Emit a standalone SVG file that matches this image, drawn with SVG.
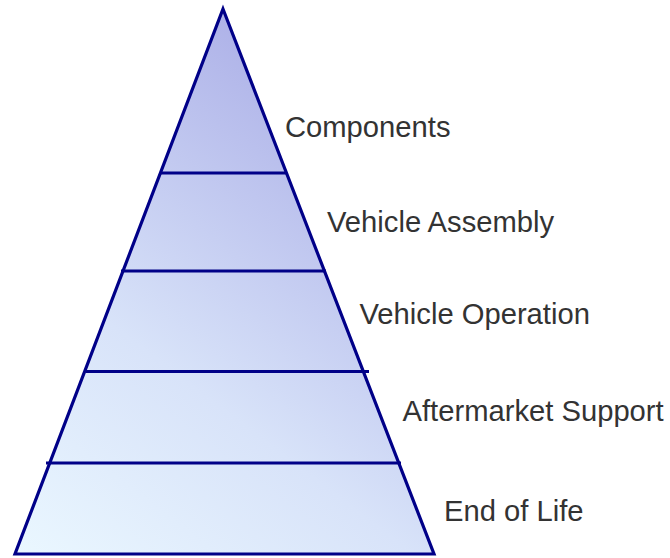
<svg xmlns="http://www.w3.org/2000/svg" width="670" height="558" viewBox="0 0 670 558">
  <defs>
    <linearGradient id="pyrFill" gradientUnits="userSpaceOnUse" x1="20" y1="554" x2="380" y2="80">
      <stop offset="0" stop-color="#eaf7ff"/>
      <stop offset="0.4" stop-color="#d8e3f9"/>
      <stop offset="1" stop-color="#a9ace6"/>
    </linearGradient>
    <style>
      .edge { fill: none; stroke: #000088; stroke-width: 3.2; stroke-linejoin: miter; }
      .body { fill: url(#pyrFill); stroke: #000088; stroke-width: 3.2; stroke-linejoin: miter; }
      .label { font-family: "Liberation Sans", Arial, sans-serif; font-size: 29.2px; fill: #333333; }
    </style>
  </defs>

  <!-- pyramid body -->
  <g id="pyramid">
    <polygon class="body" points="223,9 434,554 15,554"/>
  </g>

  <!-- tier dividers -->
  <g id="dividers">
    <line class="edge" x1="160" y1="173" x2="287" y2="173"/>
    <line class="edge" x1="121" y1="271" x2="326" y2="271"/>
    <line class="edge" x1="86" y1="371.5" x2="369" y2="371.5"/>
    <line class="edge" x1="46" y1="463" x2="401" y2="463"/>
  </g>

  <!-- tier labels -->
  <g id="tier-components"><text class="label" x="285" y="137">Components</text></g>
  <g id="tier-assembly"><text class="label" x="327" y="232">Vehicle Assembly</text></g>
  <g id="tier-operation"><text class="label" x="359.5" y="324">Vehicle Operation</text></g>
  <g id="tier-aftermarket"><text class="label" x="402.5" y="421">Aftermarket Support</text></g>
  <g id="tier-endoflife"><text class="label" x="444" y="521">End of Life</text></g>
</svg>
